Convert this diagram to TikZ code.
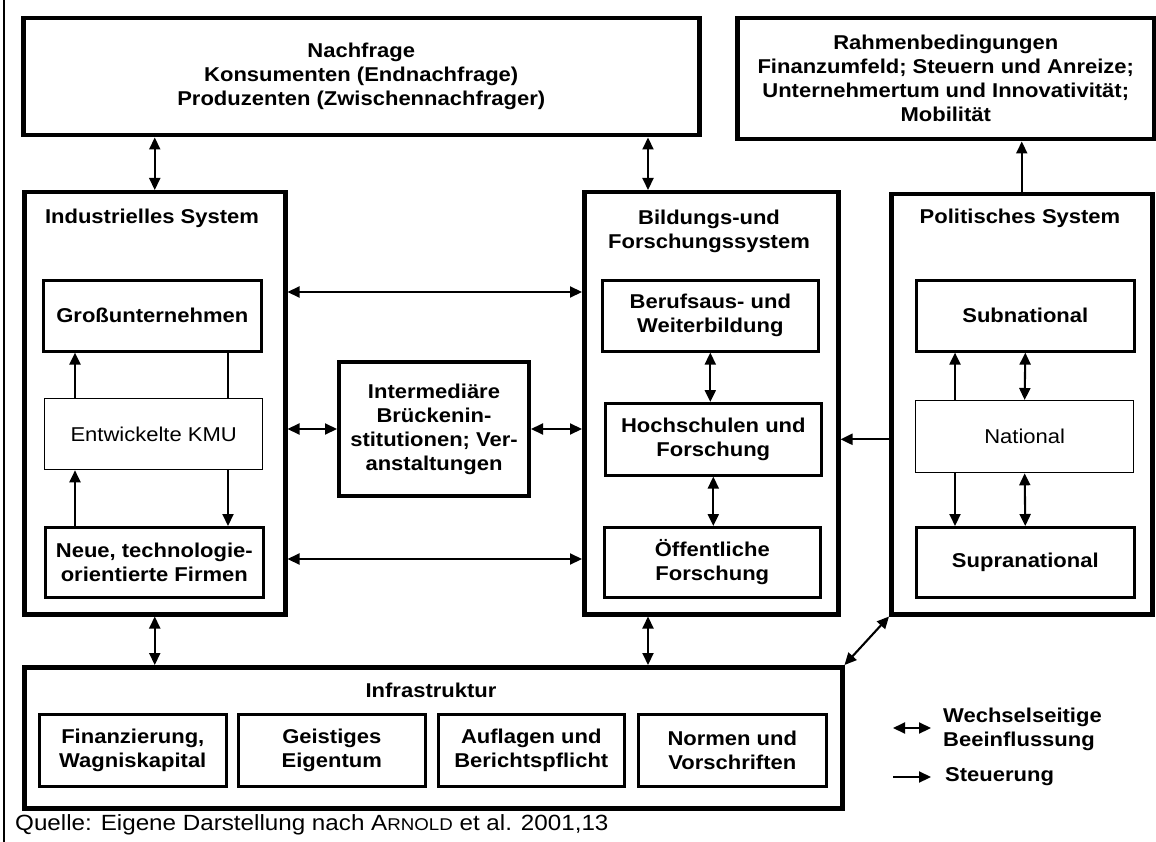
\documentclass[tikz,border=0pt]{standalone}
\usepackage{fontspec}
\setmainfont{Liberation Sans}[FakeStretch=1.1]
\usetikzlibrary{arrows.meta,calc}

\begin{document}
\begin{tikzpicture}[x=1pt,y=-1pt,
  txt/.style={font=\fontsize{20}{24}\selectfont\bfseries, align=center},
  outerbox/.style={draw, line width=4.5pt, anchor=north west, inner sep=0pt, txt},
  innerbox/.style={draw, line width=2.6pt, anchor=north west, inner sep=0pt, txt},
  plainbox/.style={draw, line width=1.3pt, anchor=north west, inner sep=0pt,
    align=center, font=\fontsize{20}{24}\selectfont},
  con/.style={line width=2.1pt},
  arr/.style={con, -{Triangle[length=12pt,width=11pt]}},
  dbl/.style={con, {Triangle[length=12pt,width=11pt]}-{Triangle[length=12pt,width=11pt]}},
]
\fill[white] (0,0) rectangle (1156,842);
\useasboundingbox (0,0) rectangle (1156,842);

% left margin rule
\draw[line width=1.5pt] (4,0) -- (4,842);

% top row
\node[outerbox, minimum width=676pt, minimum height=117pt] (nach) at (21,16)
  {Nachfrage\\Konsumenten (Endnachfrage)\\Produzenten (Zwischennachfrager)};
\node[outerbox, minimum width=417pt, minimum height=121pt] (rah) at (735,16)
  {Rahmenbedingungen\\Finanzumfeld; Steuern und Anreize;\\Unternehmertum und Innovativität;\\Mobilität};

% industrial system
\node[outerbox, minimum width=261pt, minimum height=422pt] (ind) at (22,190) {};
\node[txt] (indt) at (152,218) {Industrielles System};
\node[innerbox, minimum width=218pt, minimum height=71pt] (gross) at (42,279) {Großunternehmen};
\node[plainbox, minimum width=218pt, minimum height=71pt] (kmu) at (44,398) {Entwickelte KMU};
\node[innerbox, minimum width=218pt, minimum height=70pt] (neue) at (44,526)
  {Neue, technologie-\\orientierte Firmen};

% intermediaries
\node[outerbox, line width=4pt, minimum width=190pt, minimum height=134pt] (inter) at (337,360)
  {Intermediäre\\Brückenin-\\stitutionen; Ver-\\anstaltungen};

% education and research system
\node[outerbox, minimum width=254pt, minimum height=422pt] (bil) at (582,190) {};
\node[txt] (bilt) at (709,231) {Bildungs-und\\Forschungssystem};
\node[innerbox, minimum width=216pt, minimum height=71pt] (beruf) at (601,279)
  {Berufsaus- und\\Weiterbildung};
\node[innerbox, minimum width=216pt, minimum height=72pt] (hoch) at (604,402)
  {Hochschulen und\\Forschung};
\node[innerbox, minimum width=216pt, minimum height=70pt] (oeff) at (603,526)
  {Öffentliche\\Forschung};

% political system
\node[outerbox, minimum width=261pt, minimum height=420pt] (pol) at (889,192) {};
\node[txt] (polt) at (1020,218) {Politisches System};
\node[innerbox, minimum width=218pt, minimum height=71pt] (sub) at (915,279) {Subnational};
\node[plainbox, minimum width=218pt, minimum height=72pt] (nat) at (915,400) {National};
\node[innerbox, minimum width=218pt, minimum height=70pt] (sup) at (915,526) {Supranational};

% infrastructure
\node[outerbox, minimum width=818pt, minimum height=141pt] (infra) at (22,665) {};
\node[txt] (infrat) at (431,690) {Infrastruktur};
\node[innerbox, minimum width=187pt, minimum height=72pt] (f1) at (38,713) {Finanzierung,\\Wagniskapital};
\node[innerbox, minimum width=187pt, minimum height=72pt] (f2) at (237,713) {Geistiges\\Eigentum};
\node[innerbox, minimum width=186pt, minimum height=72pt] (f3) at (437,713) {Auflagen und\\Berichtspflicht};
\node[innerbox, minimum width=188pt, minimum height=72pt] (f4) at (637,713) {Normen und\\Vorschriften};

% helper coordinates
\coordinate (bx) at (648,0);
\coordinate (h1) at (0,292);
\coordinate (h3) at (0,559);
\coordinate (ixl) at (75,0);
\coordinate (ixr) at (228,0);
\coordinate (pxl) at (955,0);

% connectors: top row
\draw[dbl] (ind.north |- nach.south) -- (ind.north);
\draw[dbl] (bx |- nach.south) -- (bx |- bil.north);
\draw[arr] (pol.north) -- (pol.north |- rah.south);

% connectors: between systems
\draw[dbl] (ind.east |- h1) -- (bil.west |- h1);
\draw[dbl] (ind.east |- inter.west) -- (inter.west);
\draw[dbl] (inter.east) -- (bil.west |- inter.east);
\draw[dbl] (ind.east |- h3) -- (bil.west |- h3);
\draw[arr] (pol.west |- hoch.east) -- (bil.east |- hoch.east);

% connectors: inside the industrial system
\draw[arr] (kmu.north -| ixl) -- (gross.south -| ixl);
\draw[con] (gross.south -| ixr) -- (kmu.north -| ixr);
\draw[arr] (kmu.south -| ixr) -- (neue.north -| ixr);
\draw[arr] (neue.north -| ixl) -- (kmu.south -| ixl);

% connectors: inside the education system
\draw[dbl] (beruf.south) -- (beruf.south |- hoch.north);
\draw[dbl] (hoch.south) -- (hoch.south |- oeff.north);

% connectors: inside the political system
\draw[arr] (nat.north -| pxl) -- (sub.south -| pxl);
\draw[dbl] (sub.south) -- (nat.north);
\draw[arr] (nat.south -| pxl) -- (sup.north -| pxl);
\draw[dbl] (nat.south) -- (sup.north);

% connectors: infrastructure
\draw[dbl] (ind.south) -- (ind.south |- infra.north);
\draw[dbl] (bx |- bil.south) -- (bx |- infra.north);
\draw[dbl] (pol.south west) -- (infra.north east);

% legend
\node[txt, anchor=west, align=left, inner sep=0pt] (lg1) at (943,729) {Wechselseitige\\Beeinflussung};
\node[txt, anchor=west, inner sep=0pt] (lg2) at (945,777) {Steuerung};
\coordinate (la1) at (893,728);
\coordinate (la2) at (931,728);
\coordinate (lb1) at (893,777);
\coordinate (lb2) at (931,777);
\draw[dbl] (la1) -- (la2);
\draw[arr] (lb1) -- (lb2);

% source line
\node[anchor=base west, inner sep=0pt, font=\fontsize{22}{26}\selectfont] (src) at (15,830)
  {Quelle: Eigene Darstellung nach A{\fontsize{17}{20}\selectfont RNOLD} et al. 2001,13};
\end{tikzpicture}
\end{document}
